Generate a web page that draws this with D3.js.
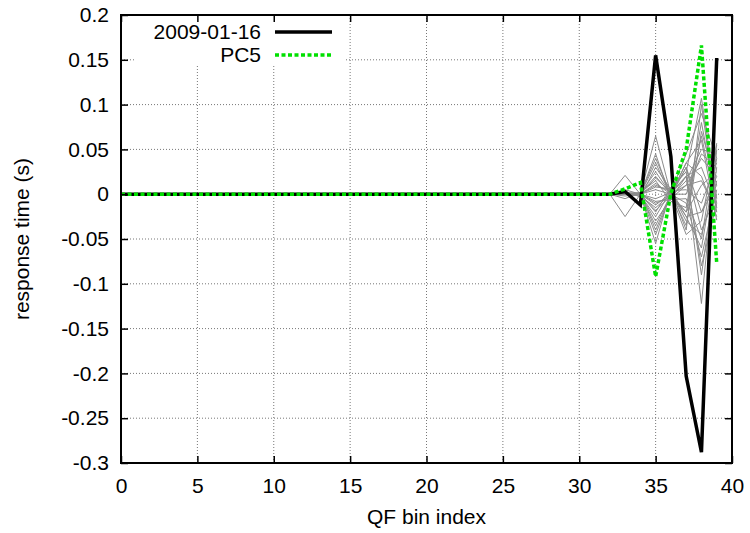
<!DOCTYPE html>
<html>
<head>
<meta charset="utf-8">
<script src="https://cdn.jsdelivr.net/npm/d3@7"></script>
<style>
    body { margin: 0; background: white; }
    svg { display: block; font-family: "Liberation Sans", Arial, sans-serif; }
</style>
</head>
<body>
<div class="graphique"></div>
<script>
// QF bin index 0..39
const bins = d3.range(0, 40);
const xTicks = [0, 5, 10, 15, 20, 25, 30, 35, 40];
const yTicks = [-0.3, -0.25, -0.2, -0.15, -0.1, -0.05, 0, 0.05, 0.1, 0.15, 0.2];

// main series
const day20090116 = [
    0, 0, 0, 0, 0, 0, 0, 0, 0, 0,
    0, 0, 0, 0, 0, 0, 0, 0, 0, 0,
    0, 0, 0, 0, 0, 0, 0, 0, 0, 0,
    0, 0, 0, 0.003, -0.012, 0.155, 0.042, -0.203, -0.288, 0.152
];
const pc5 = [
    0, 0, 0, 0, 0, 0, 0, 0, 0, 0,
    0, 0, 0, 0, 0, 0, 0, 0, 0, 0,
    0, 0, 0, 0, 0, 0, 0, 0, 0, 0,
    0, 0, 0, 0.006, 0.013, -0.092, 0.001, 0.05, 0.166, -0.077
];

// grey background curves: zero up to bin 32, values for bins 33..39
const greyFirstBin = 33;
const greyTails = [
    [0.021, 0, 0.065, 0, 0.03, -0.02, 0.01],
    [-0.025, 0, -0.055, 0.005, -0.04, 0.1, -0.02],
    [0.005, 0, 0.045, -0.005, 0.02, -0.122, 0.05],
    [-0.005, 0.002, -0.04, 0, 0.035, 0.06, -0.029],
    [0.003, -0.003, 0.03, 0.005, -0.025, -0.06, 0.04],
    [0, 0, -0.03, -0.005, 0.01, 0.04, 0.02],
    [0.002, 0.001, 0.02, 0, -0.045, -0.03, 0.057],
    [-0.002, 0, -0.02, 0.008, 0.025, -0.09, 0.03],
    [0, 0.002, 0.015, -0.008, -0.015, 0.08, -0.01],
    [0, -0.002, -0.015, 0, 0.035, 0.02, -0.025],
    [0.001, 0, 0.01, 0.003, -0.03, -0.045, 0.015],
    [0, 0, -0.01, -0.003, 0.015, 0.05, 0.045],
    [0, 0, 0.005, 0, -0.01, -0.07, 0.005],
    [0, 0, -0.005, 0.002, 0.02, 0.03, -0.015],
    [0, 0.001, 0.025, 0, -0.02, 0.01, 0.025],
    [0, -0.001, -0.025, 0.004, 0.005, -0.01, 0.035],
    [0, 0, 0.035, -0.002, 0.03, -0.04, 0],
    [0, 0, -0.045, 0, -0.035, 0.07, 0.01],
    [0, 0, 0.008, 0.006, 0.025, 0.107, -0.005],
    [0, 0, -0.008, -0.006, -0.005, -0.05, 0.055],
    [0, 0, 0.012, 0, 0.01, 0.015, -0.02],
    [0, 0, -0.012, 0.001, -0.025, -0.02, 0.02],
    [0, 0, 0.04, 0, 0.0, 0.045, 0.03],
    [0, 0, -0.035, 0, 0.02, -0.08, -0.01],
    [0, 0, 0.018, 0.002, 0.045, 0.09, 0.04],
    [0, 0, -0.018, -0.002, -0.02, 0.065, -0.015]
];

const legendNames = ["2009-01-16", "PC5"];

document.addEventListener("DOMContentLoaded", function() {
    initGraphique();
});

function initGraphique() {
    const width = 750;
    const height = 533;
    const margin = { top: 15, right: 18, bottom: 70, left: 121 };
    const innerW = width - margin.left - margin.right;
    const innerH = height - margin.top - margin.bottom;
    const fontSize = 21;

    const svg = d3.select(".graphique")
        .append("svg")
        .attr("width", width)
        .attr("height", height);

    const g = svg.append("g")
        .attr("transform", `translate(${margin.left},${margin.top})`);

    const xScale = d3.scaleLinear().domain([0, 40]).range([0, innerW]);
    const yScale = d3.scaleLinear().domain([-0.3, 0.2]).range([innerH, 0]);

    // dotted grid
    const grid = g.append("g")
        .attr("stroke", "#777")
        .attr("stroke-width", 1)
        .attr("stroke-dasharray", "1,2");
    grid.selectAll(".gx")
        .data(xTicks.slice(1, -1))
        .enter().append("line")
        .attr("x1", d => xScale(d)).attr("x2", d => xScale(d))
        .attr("y1", 0).attr("y2", innerH);
    grid.selectAll(".gy")
        .data(yTicks.slice(1, -1))
        .enter().append("line")
        .attr("x1", 0).attr("x2", innerW)
        .attr("y1", d => yScale(d)).attr("y2", d => yScale(d));

    const line = d3.line().x(d => xScale(d[0])).y(d => yScale(d[1]));

    // grey curves
    const greySeries = greyTails.map(tail =>
        bins.map(b => [b, b < greyFirstBin ? 0 : tail[b - greyFirstBin]])
    );
    g.append("g").selectAll("path")
        .data(greySeries)
        .enter().append("path")
        .attr("fill", "none")
        .attr("stroke", "#8c8c8c")
        .attr("stroke-width", 1)
        .attr("d", line);

    g.append("path")
        .datum(bins.map(b => [b, day20090116[b]]))
        .attr("fill", "none")
        .attr("stroke", "black")
        .attr("stroke-width", 3.5)
        .attr("d", line);

    g.append("path")
        .datum(bins.map(b => [b, pc5[b]]))
        .attr("fill", "none")
        .attr("stroke", "#00e000")
        .attr("stroke-width", 3.5)
        .attr("stroke-dasharray", "4,2.5")
        .attr("d", line);

    // legend (opaque box)
    const legend = g.append("g");
    legend.append("rect")
        .attr("x", 14).attr("y", 1)
        .attr("width", 211).attr("height", 48)
        .attr("fill", "white");
    const legendStyles = [
        { stroke: "black", dash: null },
        { stroke: "#00e000", dash: "4,2.5" }
    ];
    legendNames.forEach((name, i) => {
        const yy = 17 + i * 23;
        legend.append("text")
            .attr("x", 140).attr("y", yy)
            .attr("dy", "0.35em")
            .attr("text-anchor", "end")
            .attr("font-size", fontSize)
            .text(name);
        legend.append("line")
            .attr("x1", 154).attr("x2", 211)
            .attr("y1", yy).attr("y2", yy)
            .attr("stroke", legendStyles[i].stroke)
            .attr("stroke-width", 3.5)
            .attr("stroke-dasharray", legendStyles[i].dash);
    });

    // axes with inward ticks, mirrored (plain hyphen for negatives)
    const fmt = d => String(+d.toFixed(2));
    const bottom = g.append("g").attr("transform", `translate(0,${innerH})`)
        .call(d3.axisBottom(xScale).tickValues(xTicks).tickSize(-7).tickPadding(15).tickFormat(fmt));
    const left = g.append("g")
        .call(d3.axisLeft(yScale).tickValues(yTicks).tickSize(-7).tickPadding(12).tickFormat(fmt));
    const top = g.append("g")
        .call(d3.axisTop(xScale).tickValues(xTicks).tickSize(-7).tickFormat(""));
    const right = g.append("g").attr("transform", `translate(${innerW},0)`)
        .call(d3.axisRight(yScale).tickValues(yTicks).tickSize(-7).tickFormat(""));

    [bottom, left, top, right].forEach(a => {
        a.select(".domain").remove();
        a.selectAll(".tick line").attr("stroke", "black").attr("stroke-width", 1.5);
        a.selectAll("text")
            .attr("font-family", "'Liberation Sans', Arial, sans-serif")
            .attr("font-size", fontSize)
            .attr("fill", "black");
    });

    g.append("rect")
        .attr("width", innerW).attr("height", innerH)
        .attr("fill", "none")
        .attr("stroke", "black")
        .attr("stroke-width", 2);

    svg.append("text")
        .attr("x", margin.left + innerW / 2)
        .attr("y", 524)
        .attr("text-anchor", "middle")
        .attr("font-size", fontSize)
        .text("QF bin index");

    svg.append("text")
        .attr("transform", `translate(29,${margin.top + innerH / 2}) rotate(-90)`)
        .attr("text-anchor", "middle")
        .attr("font-size", fontSize)
        .text("response time (s)");
}
</script>
</body>
</html>
